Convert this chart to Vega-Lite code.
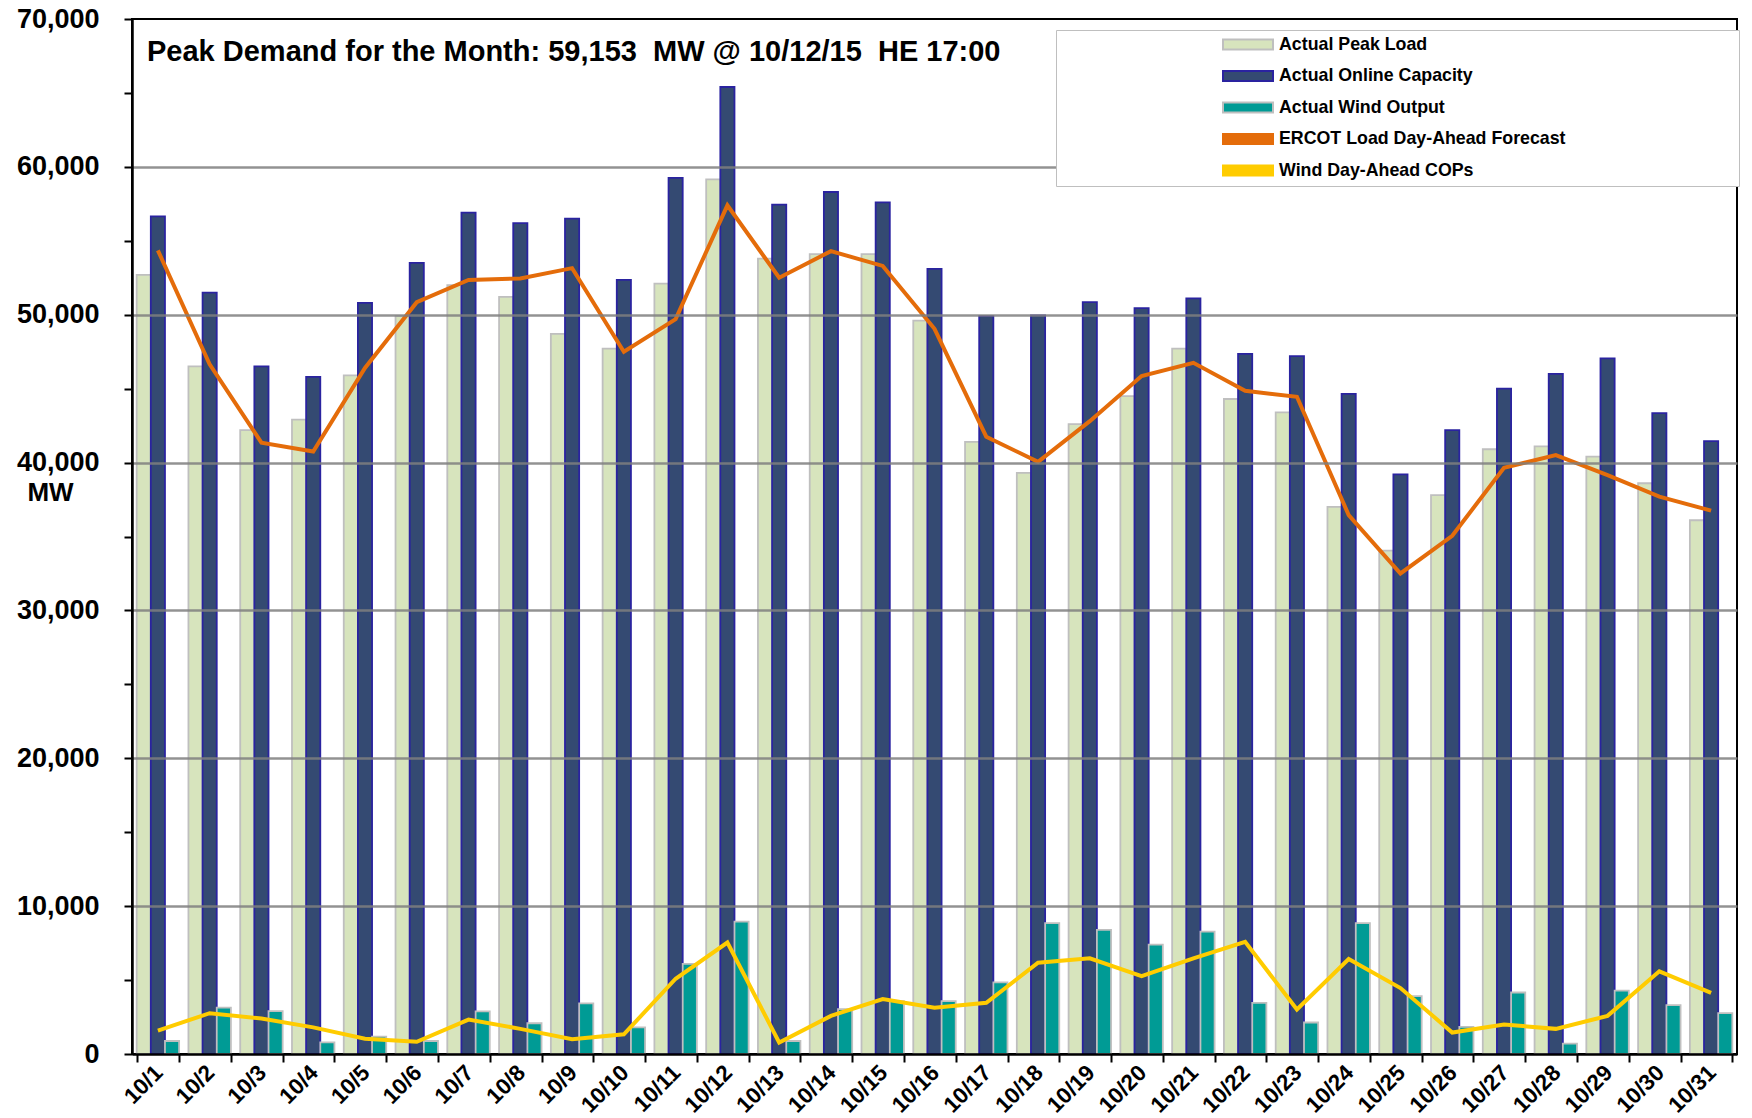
{
  "$schema": "https://vega.github.io/schema/vega-lite/v6.json",
  "width": 1605,
  "height": 1035,
  "autosize": {"type": "none"},
  "padding": {"left": 132, "top": 19, "right": 15, "bottom": 64},
  "background": "white",
  "title": {
    "text": "Peak Demand for the Month: 59,153\u00a0 MW @ 10/12/15\u00a0 HE 17:00",
    "anchor": "start",
    "frame": "group",
    "font": "Liberation Sans",
    "fontSize": 29,
    "fontWeight": "bold",
    "color": "#000000",
    "dx": 15,
    "dy": 66,
    "offset": 4
  },
  "datasets": {
    "bars": [
      {"day": "10/1", "series": "Actual Peak Load", "mw": 52700},
      {"day": "10/2", "series": "Actual Peak Load", "mw": 46500},
      {"day": "10/3", "series": "Actual Peak Load", "mw": 42200},
      {"day": "10/4", "series": "Actual Peak Load", "mw": 42900},
      {"day": "10/5", "series": "Actual Peak Load", "mw": 45900},
      {"day": "10/6", "series": "Actual Peak Load", "mw": 49900},
      {"day": "10/7", "series": "Actual Peak Load", "mw": 52000},
      {"day": "10/8", "series": "Actual Peak Load", "mw": 51200},
      {"day": "10/9", "series": "Actual Peak Load", "mw": 48700},
      {"day": "10/10", "series": "Actual Peak Load", "mw": 47700},
      {"day": "10/11", "series": "Actual Peak Load", "mw": 52100},
      {"day": "10/12", "series": "Actual Peak Load", "mw": 59153},
      {"day": "10/13", "series": "Actual Peak Load", "mw": 53800},
      {"day": "10/14", "series": "Actual Peak Load", "mw": 54100},
      {"day": "10/15", "series": "Actual Peak Load", "mw": 54100},
      {"day": "10/16", "series": "Actual Peak Load", "mw": 49600},
      {"day": "10/17", "series": "Actual Peak Load", "mw": 41400},
      {"day": "10/18", "series": "Actual Peak Load", "mw": 39300},
      {"day": "10/19", "series": "Actual Peak Load", "mw": 42600},
      {"day": "10/20", "series": "Actual Peak Load", "mw": 44500},
      {"day": "10/21", "series": "Actual Peak Load", "mw": 47700},
      {"day": "10/22", "series": "Actual Peak Load", "mw": 44300},
      {"day": "10/23", "series": "Actual Peak Load", "mw": 43400},
      {"day": "10/24", "series": "Actual Peak Load", "mw": 37000},
      {"day": "10/25", "series": "Actual Peak Load", "mw": 34050},
      {"day": "10/26", "series": "Actual Peak Load", "mw": 37800},
      {"day": "10/27", "series": "Actual Peak Load", "mw": 40900},
      {"day": "10/28", "series": "Actual Peak Load", "mw": 41100},
      {"day": "10/29", "series": "Actual Peak Load", "mw": 40400},
      {"day": "10/30", "series": "Actual Peak Load", "mw": 38600},
      {"day": "10/31", "series": "Actual Peak Load", "mw": 36100},
      {"day": "10/1", "series": "Actual Online Capacity", "mw": 56650},
      {"day": "10/2", "series": "Actual Online Capacity", "mw": 51500},
      {"day": "10/3", "series": "Actual Online Capacity", "mw": 46500},
      {"day": "10/4", "series": "Actual Online Capacity", "mw": 45800},
      {"day": "10/5", "series": "Actual Online Capacity", "mw": 50800},
      {"day": "10/6", "series": "Actual Online Capacity", "mw": 53500},
      {"day": "10/7", "series": "Actual Online Capacity", "mw": 56900},
      {"day": "10/8", "series": "Actual Online Capacity", "mw": 56200},
      {"day": "10/9", "series": "Actual Online Capacity", "mw": 56500},
      {"day": "10/10", "series": "Actual Online Capacity", "mw": 52350},
      {"day": "10/11", "series": "Actual Online Capacity", "mw": 59250},
      {"day": "10/12", "series": "Actual Online Capacity", "mw": 65400},
      {"day": "10/13", "series": "Actual Online Capacity", "mw": 57450},
      {"day": "10/14", "series": "Actual Online Capacity", "mw": 58300},
      {"day": "10/15", "series": "Actual Online Capacity", "mw": 57600},
      {"day": "10/16", "series": "Actual Online Capacity", "mw": 53100},
      {"day": "10/17", "series": "Actual Online Capacity", "mw": 49900},
      {"day": "10/18", "series": "Actual Online Capacity", "mw": 49950},
      {"day": "10/19", "series": "Actual Online Capacity", "mw": 50850},
      {"day": "10/20", "series": "Actual Online Capacity", "mw": 50450},
      {"day": "10/21", "series": "Actual Online Capacity", "mw": 51100},
      {"day": "10/22", "series": "Actual Online Capacity", "mw": 47350},
      {"day": "10/23", "series": "Actual Online Capacity", "mw": 47200},
      {"day": "10/24", "series": "Actual Online Capacity", "mw": 44650},
      {"day": "10/25", "series": "Actual Online Capacity", "mw": 39200},
      {"day": "10/26", "series": "Actual Online Capacity", "mw": 42200},
      {"day": "10/27", "series": "Actual Online Capacity", "mw": 45000},
      {"day": "10/28", "series": "Actual Online Capacity", "mw": 46000},
      {"day": "10/29", "series": "Actual Online Capacity", "mw": 47050},
      {"day": "10/30", "series": "Actual Online Capacity", "mw": 43350},
      {"day": "10/31", "series": "Actual Online Capacity", "mw": 41450},
      {"day": "10/1", "series": "Actual Wind Output", "mw": 880},
      {"day": "10/2", "series": "Actual Wind Output", "mw": 3130},
      {"day": "10/3", "series": "Actual Wind Output", "mw": 2900},
      {"day": "10/4", "series": "Actual Wind Output", "mw": 780},
      {"day": "10/5", "series": "Actual Wind Output", "mw": 1180},
      {"day": "10/6", "series": "Actual Wind Output", "mw": 880},
      {"day": "10/7", "series": "Actual Wind Output", "mw": 2880},
      {"day": "10/8", "series": "Actual Wind Output", "mw": 2080},
      {"day": "10/9", "series": "Actual Wind Output", "mw": 3430},
      {"day": "10/10", "series": "Actual Wind Output", "mw": 1800},
      {"day": "10/11", "series": "Actual Wind Output", "mw": 6100},
      {"day": "10/12", "series": "Actual Wind Output", "mw": 8950},
      {"day": "10/13", "series": "Actual Wind Output", "mw": 880},
      {"day": "10/14", "series": "Actual Wind Output", "mw": 3030},
      {"day": "10/15", "series": "Actual Wind Output", "mw": 3580},
      {"day": "10/16", "series": "Actual Wind Output", "mw": 3580},
      {"day": "10/17", "series": "Actual Wind Output", "mw": 4840},
      {"day": "10/18", "series": "Actual Wind Output", "mw": 8850},
      {"day": "10/19", "series": "Actual Wind Output", "mw": 8400},
      {"day": "10/20", "series": "Actual Wind Output", "mw": 7400},
      {"day": "10/21", "series": "Actual Wind Output", "mw": 8270},
      {"day": "10/22", "series": "Actual Wind Output", "mw": 3460},
      {"day": "10/23", "series": "Actual Wind Output", "mw": 2130},
      {"day": "10/24", "series": "Actual Wind Output", "mw": 8850},
      {"day": "10/25", "series": "Actual Wind Output", "mw": 3910},
      {"day": "10/26", "series": "Actual Wind Output", "mw": 1830},
      {"day": "10/27", "series": "Actual Wind Output", "mw": 4160},
      {"day": "10/28", "series": "Actual Wind Output", "mw": 700},
      {"day": "10/29", "series": "Actual Wind Output", "mw": 4290},
      {"day": "10/30", "series": "Actual Wind Output", "mw": 3310},
      {"day": "10/31", "series": "Actual Wind Output", "mw": 2760}
    ],
    "lines": [
      {"day": "10/1", "series": "ERCOT Load Day-Ahead Forecast", "mw": 54350},
      {"day": "10/2", "series": "ERCOT Load Day-Ahead Forecast", "mw": 46650},
      {"day": "10/3", "series": "ERCOT Load Day-Ahead Forecast", "mw": 41350},
      {"day": "10/4", "series": "ERCOT Load Day-Ahead Forecast", "mw": 40750},
      {"day": "10/5", "series": "ERCOT Load Day-Ahead Forecast", "mw": 46400},
      {"day": "10/6", "series": "ERCOT Load Day-Ahead Forecast", "mw": 50850},
      {"day": "10/7", "series": "ERCOT Load Day-Ahead Forecast", "mw": 52350},
      {"day": "10/8", "series": "ERCOT Load Day-Ahead Forecast", "mw": 52450},
      {"day": "10/9", "series": "ERCOT Load Day-Ahead Forecast", "mw": 53150},
      {"day": "10/10", "series": "ERCOT Load Day-Ahead Forecast", "mw": 47500},
      {"day": "10/11", "series": "ERCOT Load Day-Ahead Forecast", "mw": 49700},
      {"day": "10/12", "series": "ERCOT Load Day-Ahead Forecast", "mw": 57400},
      {"day": "10/13", "series": "ERCOT Load Day-Ahead Forecast", "mw": 52500},
      {"day": "10/14", "series": "ERCOT Load Day-Ahead Forecast", "mw": 54300},
      {"day": "10/15", "series": "ERCOT Load Day-Ahead Forecast", "mw": 53300},
      {"day": "10/16", "series": "ERCOT Load Day-Ahead Forecast", "mw": 49050},
      {"day": "10/17", "series": "ERCOT Load Day-Ahead Forecast", "mw": 41750},
      {"day": "10/18", "series": "ERCOT Load Day-Ahead Forecast", "mw": 40050},
      {"day": "10/19", "series": "ERCOT Load Day-Ahead Forecast", "mw": 42800},
      {"day": "10/20", "series": "ERCOT Load Day-Ahead Forecast", "mw": 45850},
      {"day": "10/21", "series": "ERCOT Load Day-Ahead Forecast", "mw": 46750},
      {"day": "10/22", "series": "ERCOT Load Day-Ahead Forecast", "mw": 44850},
      {"day": "10/23", "series": "ERCOT Load Day-Ahead Forecast", "mw": 44450},
      {"day": "10/24", "series": "ERCOT Load Day-Ahead Forecast", "mw": 36450},
      {"day": "10/25", "series": "ERCOT Load Day-Ahead Forecast", "mw": 32500},
      {"day": "10/26", "series": "ERCOT Load Day-Ahead Forecast", "mw": 35050},
      {"day": "10/27", "series": "ERCOT Load Day-Ahead Forecast", "mw": 39650},
      {"day": "10/28", "series": "ERCOT Load Day-Ahead Forecast", "mw": 40500},
      {"day": "10/29", "series": "ERCOT Load Day-Ahead Forecast", "mw": 39150},
      {"day": "10/30", "series": "ERCOT Load Day-Ahead Forecast", "mw": 37700},
      {"day": "10/31", "series": "ERCOT Load Day-Ahead Forecast", "mw": 36750},
      {"day": "10/1", "series": "Wind Day-Ahead COPs", "mw": 1580},
      {"day": "10/2", "series": "Wind Day-Ahead COPs", "mw": 2760},
      {"day": "10/3", "series": "Wind Day-Ahead COPs", "mw": 2400},
      {"day": "10/4", "series": "Wind Day-Ahead COPs", "mw": 1800},
      {"day": "10/5", "series": "Wind Day-Ahead COPs", "mw": 1030},
      {"day": "10/6", "series": "Wind Day-Ahead COPs", "mw": 830},
      {"day": "10/7", "series": "Wind Day-Ahead COPs", "mw": 2330},
      {"day": "10/8", "series": "Wind Day-Ahead COPs", "mw": 1700},
      {"day": "10/9", "series": "Wind Day-Ahead COPs", "mw": 1000},
      {"day": "10/10", "series": "Wind Day-Ahead COPs", "mw": 1330},
      {"day": "10/11", "series": "Wind Day-Ahead COPs", "mw": 5090},
      {"day": "10/12", "series": "Wind Day-Ahead COPs", "mw": 7540},
      {"day": "10/13", "series": "Wind Day-Ahead COPs", "mw": 780},
      {"day": "10/14", "series": "Wind Day-Ahead COPs", "mw": 2580},
      {"day": "10/15", "series": "Wind Day-Ahead COPs", "mw": 3710},
      {"day": "10/16", "series": "Wind Day-Ahead COPs", "mw": 3130},
      {"day": "10/17", "series": "Wind Day-Ahead COPs", "mw": 3460},
      {"day": "10/18", "series": "Wind Day-Ahead COPs", "mw": 6170},
      {"day": "10/19", "series": "Wind Day-Ahead COPs", "mw": 6470},
      {"day": "10/20", "series": "Wind Day-Ahead COPs", "mw": 5260},
      {"day": "10/21", "series": "Wind Day-Ahead COPs", "mw": 6470},
      {"day": "10/22", "series": "Wind Day-Ahead COPs", "mw": 7590},
      {"day": "10/23", "series": "Wind Day-Ahead COPs", "mw": 3010},
      {"day": "10/24", "series": "Wind Day-Ahead COPs", "mw": 6420},
      {"day": "10/25", "series": "Wind Day-Ahead COPs", "mw": 4460},
      {"day": "10/26", "series": "Wind Day-Ahead COPs", "mw": 1450},
      {"day": "10/27", "series": "Wind Day-Ahead COPs", "mw": 2000},
      {"day": "10/28", "series": "Wind Day-Ahead COPs", "mw": 1700},
      {"day": "10/29", "series": "Wind Day-Ahead COPs", "mw": 2580},
      {"day": "10/30", "series": "Wind Day-Ahead COPs", "mw": 5590},
      {"day": "10/31", "series": "Wind Day-Ahead COPs", "mw": 4140}
    ]
  },
  "encoding": {
    "x": {
      "field": "day",
      "type": "nominal",
      "scale": {
        "domain": ["10/1","10/2","10/3","10/4","10/5","10/6","10/7","10/8","10/9","10/10","10/11","10/12","10/13","10/14","10/15","10/16","10/17","10/18","10/19","10/20","10/21","10/22","10/23","10/24","10/25","10/26","10/27","10/28","10/29","10/30","10/31"],
        "paddingInner": 0.18,
        "paddingOuter": 0.09
      },
      "axis": {
        "title": null,
        "labelAngle": -45,
        "labelFontSize": 22.5,
        "labelFontWeight": "bold",
        "labelFont": "Liberation Sans",
        "labelColor": "#000000",
        "labelPadding": -1,
        "labelOffset": -7,
        "labelBound": false,
        "tickBand": "extent",
        "tickSize": 8,
        "tickWidth": 2,
        "tickColor": "#000000",
        "domainColor": "#000000",
        "domainWidth": 2.5,
        "grid": false,
        "zindex": 1
      }
    },
    "y": {
      "field": "mw",
      "type": "quantitative",
      "scale": {"domain": [0, 70000], "nice": false},
      "axis": {
        "values": [0,5000,10000,15000,20000,25000,30000,35000,40000,45000,50000,55000,60000,65000,70000],
        "labelExpr": "datum.value % 10000 === 0 ? format(datum.value, ',') : ''",
        "labelOverlap": false,
        "labelFlush": false,
        "labelFontSize": 27,
        "labelFontWeight": "bold",
        "labelFont": "Liberation Sans",
        "labelColor": "#000000",
        "labelPadding": 25,
        "tickSize": 8,
        "tickWidth": 2,
        "tickColor": "#000000",
        "domainColor": "#000000",
        "domainWidth": 2.5,
        "grid": true,
        "gridColor": "#7F7F7F",
        "gridWidth": 2.5,
        "gridOpacity": {"condition": {"test": "datum.value % 10000 !== 0 || datum.value === 0 || datum.value === 70000", "value": 0}, "value": 0.85},
        "title": "MW",
        "titleAngle": 0,
        "titleX": -82,
        "titleY": 473,
        "titleAlign": "center",
        "titleBaseline": "middle",
        "titleFontSize": 26,
        "titleFontWeight": "bold",
        "titleFont": "Liberation Sans",
        "titleColor": "#000000",
        "zindex": 1
      }
    }
  },
  "layer": [
    {
      "data": {"name": "bars"},
      "mark": {"type": "bar", "strokeWidth": 1.8},
      "encoding": {
        "xOffset": {
          "field": "series",
          "type": "nominal",
          "scale": {"domain": ["Actual Peak Load", "Actual Online Capacity", "Actual Wind Output"], "paddingInner": 0, "paddingOuter": 0}
        },
        "fill": {
          "field": "series",
          "type": "nominal",
          "scale": {
            "domain": ["Actual Peak Load", "Actual Online Capacity", "Actual Wind Output", "ERCOT Load Day-Ahead Forecast", "Wind Day-Ahead COPs"],
            "range": ["#D7E4BD", "#344A72", "#009B95", "#E46C0A", "#FFCC00"]
          },
          "legend": {"title": "MMMMMMMMMM"}
        },
        "stroke": {
          "field": "series",
          "type": "nominal",
          "scale": {
            "domain": ["Actual Peak Load", "Actual Online Capacity", "Actual Wind Output", "ERCOT Load Day-Ahead Forecast", "Wind Day-Ahead COPs"],
            "range": ["#BFBFBF", "#2A23A0", "#BFBFBF", "#E46C0A", "#FFCC00"]
          },
          "legend": {"title": "MMMMMMMMMM"}
        }
      }
    },
    {
      "data": {"name": "lines"},
      "mark": {"type": "line", "strokeWidth": 4, "strokeJoin": "miter"},
      "encoding": {
        "stroke": {
          "field": "series",
          "type": "nominal",
          "scale": {
            "domain": ["Actual Peak Load", "Actual Online Capacity", "Actual Wind Output", "ERCOT Load Day-Ahead Forecast", "Wind Day-Ahead COPs"],
            "range": ["#BFBFBF", "#2A23A0", "#BFBFBF", "#E46C0A", "#FFCC00"]
          },
          "legend": {"title": "MMMMMMMMMM"}
        }
      }
    }
  ],
  "config": {
    "font": "Liberation Sans",
    "view": {"stroke": "#000000", "strokeWidth": 2},
    "legend": {
      "orient": "none",
      "legendX": 924,
      "legendY": 11,
      "padding": 6,
      "fillColor": "#FFFFFF",
      "strokeColor": "#BFBFBF",
      "titleOrient": "right",
      "titleFontSize": 20,
      "titleColor": "rgba(255,255,255,0)",
      "titleOpacity": 0,
      "titlePadding": 0,
      "titleLimit": 400,
      "symbolType": "M-1,-0.2H1V0.2H-1Z",
      "symbolSize": 2500,
      "symbolStrokeWidth": 2,
      "symbolOpacity": 1,
      "symbolOffset": 160,
      "clipHeight": 17,
      "rowPadding": 12.5,
      "labelFont": "Liberation Sans",
      "labelFontSize": 17.8,
      "labelFontWeight": "bold",
      "labelColor": "#000000",
      "labelOffset": 5,
      "labelLimit": 700,
      "zindex": 2
    }
  }
}
